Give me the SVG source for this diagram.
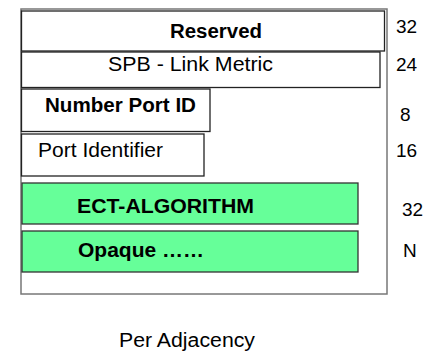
<svg xmlns="http://www.w3.org/2000/svg" width="431" height="354" viewBox="0 0 431 354">
<style>
.box{fill:#fff;stroke:#222;stroke-width:1.3}
.green{fill:#66FF99;stroke:#333;stroke-width:1.3}
.outer{fill:none;stroke:#777;stroke-width:1.5}
text{font-family:"Liberation Sans",Arial,sans-serif;fill:#000}
.lbl{font-size:20px}
.b{font-weight:bold}
.num{font-size:19px}
</style>
<rect class="outer" x="21" y="9" width="366" height="285"/>
<g id="reserved">
<rect class="box" x="21.5" y="11" width="363" height="40"/>
<text class="lbl b" x="170" y="38" textLength="92" lengthAdjust="spacingAndGlyphs">Reserved</text>
</g>
<g id="spb-link-metric">
<rect class="box" x="21.5" y="52" width="358.5" height="35.5"/>
<text class="lbl" x="108" y="70.5" textLength="165" lengthAdjust="spacingAndGlyphs">SPB - Link Metric</text>
</g>
<g id="number-port-id">
<rect class="box" x="21.5" y="89" width="188.5" height="42.5"/>
<text class="lbl b" x="45" y="112" textLength="151" lengthAdjust="spacingAndGlyphs">Number Port ID</text>
</g>
<g id="port-identifier">
<rect class="box" x="21.5" y="134" width="182.5" height="42"/>
<text class="lbl" x="38" y="156.5" textLength="125" lengthAdjust="spacingAndGlyphs">Port Identifier</text>
</g>
<g id="ect-algorithm">
<rect class="green" x="22" y="183" width="336" height="41"/>
<text class="lbl b" x="77" y="212.5" textLength="177" lengthAdjust="spacingAndGlyphs">ECT-ALGORITHM</text>
</g>
<g id="opaque">
<rect class="green" x="22" y="231" width="336" height="41"/>
<text class="lbl b" x="78" y="257" textLength="126" lengthAdjust="spacingAndGlyphs">Opaque ……</text>
</g>
<g id="sizes">
<text class="num" x="396" y="32.7">32</text>
<text class="num" x="396" y="71">24</text>
<text class="num" x="400" y="121">8</text>
<text class="num" x="396" y="157">16</text>
<text class="num" x="402" y="215.5">32</text>
<text class="num" x="403" y="256.7">N</text>
</g>
<g id="connectors"/>
<text class="lbl" x="119" y="347" textLength="136" lengthAdjust="spacingAndGlyphs">Per Adjacency</text>
</svg>
